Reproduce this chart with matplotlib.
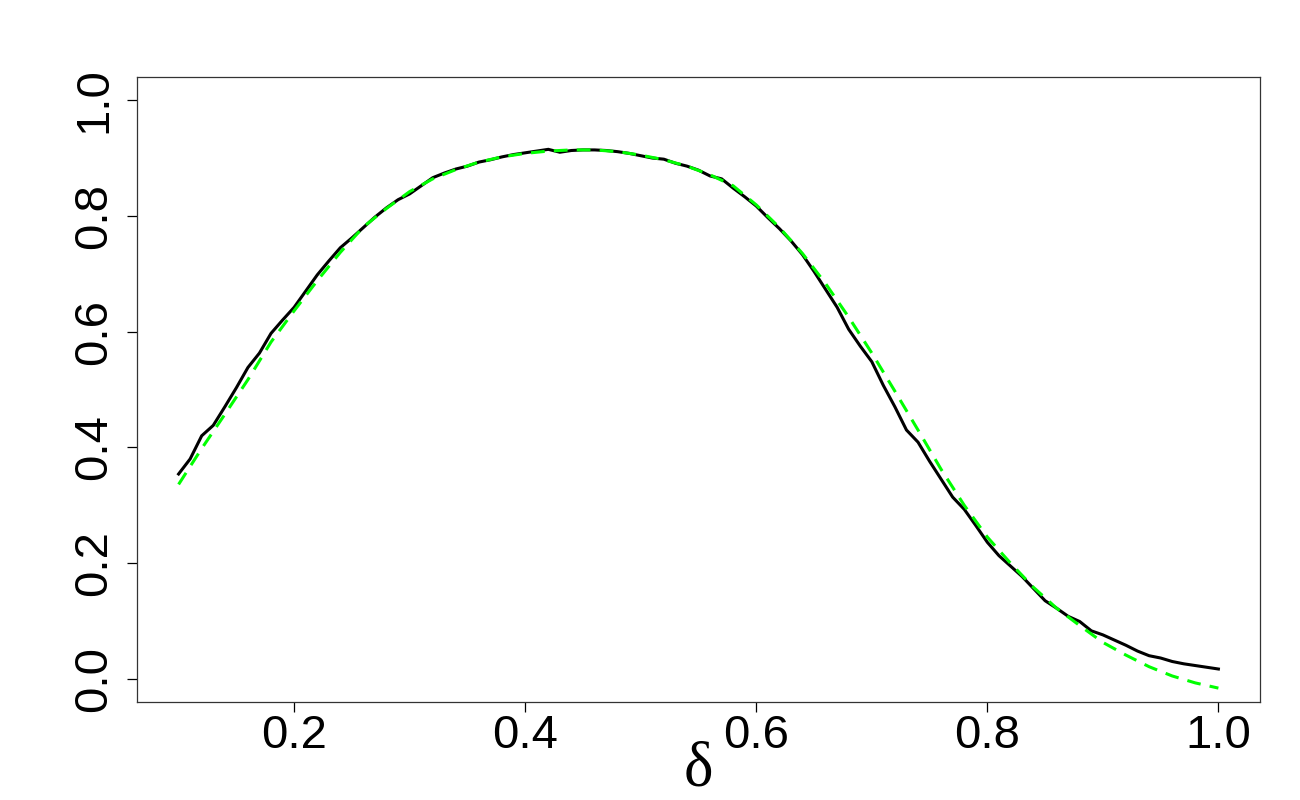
import matplotlib
matplotlib.use('Agg')
import matplotlib.pyplot as plt
import numpy as np

# black curve (simulated), read on a 0.01 grid from 0.10 to 1.00
x_black = np.round(np.arange(0.10, 1.0001, 0.01), 2)
y_black = [0.354, 0.380, 0.420, 0.438, 0.470, 0.503, 0.538, 0.563, 0.597, 0.620,
           0.642, 0.670, 0.698, 0.722, 0.745, 0.762, 0.780, 0.798, 0.814, 0.828,
           0.838, 0.852, 0.866, 0.874, 0.881, 0.886, 0.893, 0.897, 0.902, 0.906,
           0.909, 0.912, 0.915, 0.910, 0.913, 0.914, 0.914, 0.913, 0.911, 0.908,
           0.904, 0.900, 0.898, 0.891, 0.886, 0.879, 0.869, 0.864, 0.848, 0.833,
           0.817, 0.797, 0.778, 0.757, 0.733, 0.704, 0.673, 0.642, 0.604, 0.575,
           0.548, 0.507, 0.470, 0.430, 0.409, 0.376, 0.345, 0.314, 0.293, 0.265,
           0.236, 0.213, 0.195, 0.177, 0.156, 0.135, 0.122, 0.108, 0.099, 0.083,
           0.076, 0.067, 0.058, 0.048, 0.040, 0.036, 0.030, 0.026, 0.023, 0.020,
           0.017]

# green dashed curve (theoretical), read on a 0.02 grid
x_green = np.round(np.arange(0.10, 1.0001, 0.02), 2)
y_green = [0.336, 0.398, 0.457, 0.517, 0.582, 0.636, 0.688, 0.737, 0.781, 0.813,
           0.842, 0.864, 0.880, 0.893, 0.902, 0.908, 0.912, 0.914, 0.914, 0.911,
           0.905, 0.897, 0.886, 0.871, 0.852, 0.819, 0.780, 0.735, 0.683, 0.625,
           0.563, 0.497, 0.430, 0.362, 0.300, 0.245, 0.200, 0.158, 0.122, 0.092,
           0.063, 0.041, 0.021, 0.005, -0.007, -0.016]

x_ticks = [0.2, 0.4, 0.6, 0.8, 1.0]
y_ticks = [0.0, 0.2, 0.4, 0.6, 0.8, 1.0]

plt.rcParams['font.family'] = ['Liberation Sans', 'DejaVu Sans']

fig = plt.figure(figsize=(13, 8), dpi=100)
ax = fig.add_axes([137 / 1300, 1 - 702 / 800, (1260 - 137) / 1300, (702 - 77) / 800])

ax.plot(x_black, y_black, color='black', linewidth=2.2, solid_joinstyle='miter')
ax.plot(x_green, y_green, color='#00ff00', linewidth=2.2, dashes=(4.5, 3))

# R-style 4% padding
ax.set_xlim(0.1 - 0.036, 1.0 + 0.036)
ax.set_ylim(-0.04, 1.04)
ax.set_xticks(x_ticks)
ax.set_xticklabels(['%.1f' % t for t in x_ticks])
ax.set_yticks(y_ticks)
ax.set_yticklabels(['%.1f' % t for t in y_ticks], rotation=90, va='center')

ax.tick_params(axis='both', direction='out', length=7, width=0.9, labelsize=34, colors='black')
ax.tick_params(axis='x', pad=2)
ax.tick_params(axis='y', pad=8)
for s in ax.spines.values():
    s.set_linewidth(0.9)
    s.set_color('#333333')

fig.text(698 / 1300, 1 - 785 / 800, 'δ', fontsize=45, family=['Liberation Serif', 'DejaVu Serif'],
         ha='center', va='baseline')

fig.savefig('out.png', dpi=100)
